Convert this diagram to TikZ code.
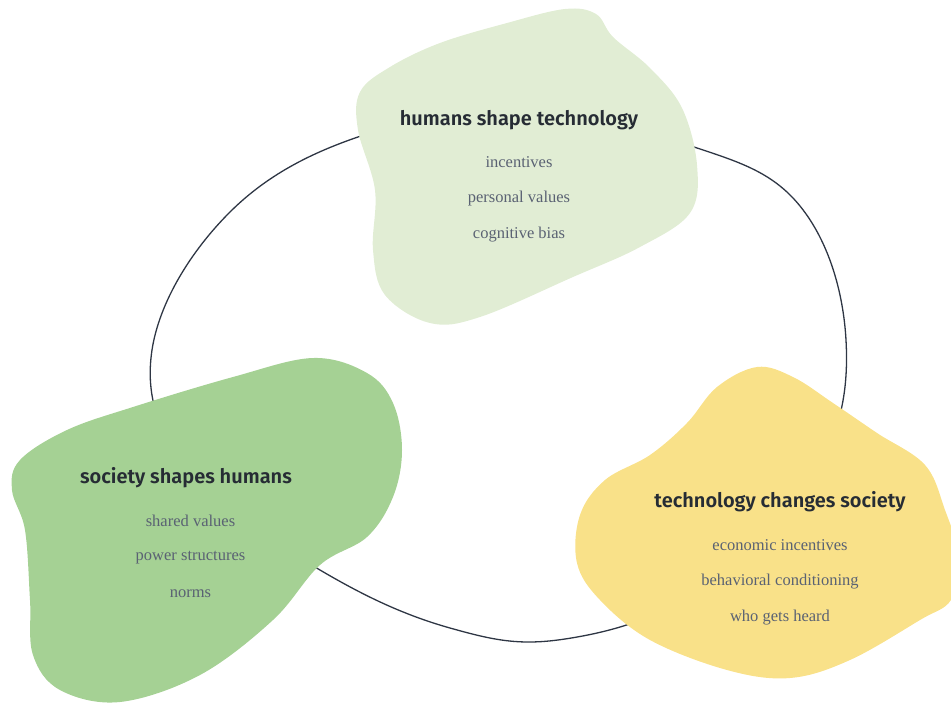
\documentclass[tikz,border=0pt]{standalone}
\usepackage{fontspec}
\setmainfont{Liberation Serif}
\newfontfamily\headfont{Fira Sans SemiBold}
\usetikzlibrary{positioning}

\definecolor{sage}{HTML}{E1EDD4}
\definecolor{leaf}{HTML}{A5D194}
\definecolor{butter}{HTML}{F9E189}
\definecolor{ink}{HTML}{262C34}
\definecolor{slate}{HTML}{5A6273}
\definecolor{loopline}{HTML}{2E3644}

\begin{document}
\begin{tikzpicture}[
  x=1pt, y=-1pt,
  node distance=36.5pt, on grid,
  blob/.style={smooth cycle, tension=0.6},
  head/.style={font=\headfont\fontsize{20}{24}\selectfont, text=ink},
  item/.style={font=\fontsize{16.5}{20}\selectfont, text=slate},
  cycleline/.style={draw=loopline, line width=1.3pt}
]
\useasboundingbox (0,0) rectangle (951,702);

% The loop behind the three blobs
\draw[cycleline] plot[smooth cycle, tension=0.65] coordinates {
  (152,350) (190,475) (320,570) (450,628) (565,639) (700,590) (815,475)
  (846,340) (800,206) (688,145) (530,116) (370,133) (230,212)};

% Blobs
\fill[sage] plot[blob] coordinates {
  (565,9) (507,23) (440,43) (390,67) (360,92) (358,130) (375,190)
  (373,250) (385,295) (430,323) (480,317) (573,277) (640,247) (690,213)
  (697,165) (682,108) (650,68) (613,37) (596,14)};
\fill[leaf] plot[blob] coordinates {
  (313,358) (367,373) (393,403) (402,450) (393,497) (367,537) (320,565)
  (273,620) (200,675) (120,702) (60,690) (33,655) (30,600) (25,530)
  (12,490) (20,460) (67,430) (133,407) (233,377)};
\fill[butter] plot[blob] coordinates {
  (757,367) (717,387) (687,423) (650,455) (605,480) (580,515) (577,563)
  (600,600) (650,640) (727,670) (790,678) (850,660) (920,620) (951,600)
  (960,560) (945,510) (925,465) (877,433) (833,403) (793,377)};

% Humans shape technology
\node[head] (humans) at (519,120) {humans shape technology};
\node[item, below=42pt of humans] (incentives) {incentives};
\node[item, below=of incentives] (personal) {personal values};
\node[item, below=of personal] (bias) {cognitive bias};

% Society shapes humans
\node[head] (society) at (186,478) {society shapes humans};
\node[item, below right=43pt and 4.5pt of society] (shared) {shared values};
\node[item, below=of shared] (power) {power structures};
\node[item, below=of power] (norms) {norms};

% Technology changes society
\node[head] (technology) at (780,502) {technology changes society};
\node[item, below=43pt of technology] (economic) {economic incentives};
\node[item, below=of economic] (conditioning) {behavioral conditioning};
\node[item, below=of conditioning] (heard) {who gets heard};

\end{tikzpicture}
\end{document}
